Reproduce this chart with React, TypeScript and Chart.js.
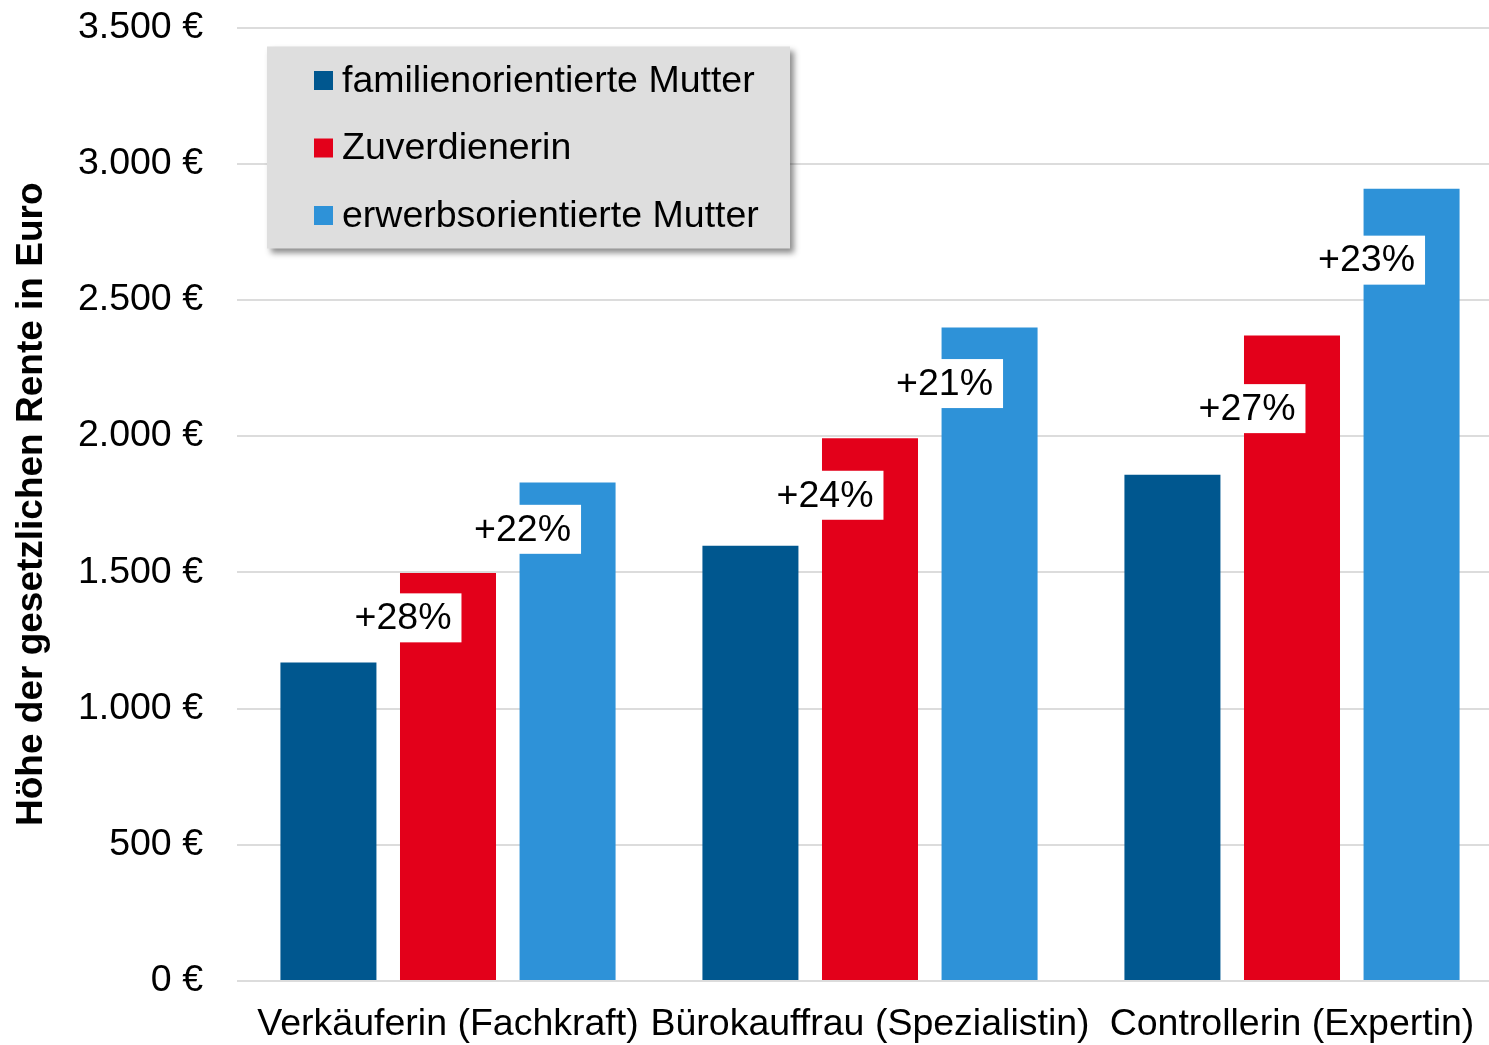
import React, { useEffect, useRef } from "react";
import { Chart, registerables } from "chart.js";

Chart.register(...registerables);

const categories = ["Verkäuferin (Fachkraft)", "Bürokauffrau (Spezialistin)", "Controllerin (Expertin)"];
const seriesNames = ["familienorientierte Mutter", "Zuverdienerin", "erwerbsorientierte Mutter"];
const familienorientiert = [1169, 1598, 1858];
const zuverdienerin = [1498, 1992, 2369];
const erwerbsorientiert = [1830, 2399, 2908];
const zuverdienerinLabels = ["+28%", "+24%", "+27%"];
const zuverdienerinLabelValues = [1333, 1783, 2101];
const erwerbsLabels = ["+22%", "+21%", "+23%"];
const erwerbsLabelValues = [1658, 2193, 2646];
const yTicks = [0, 500, 1000, 1500, 2000, 2500, 3000, 3500];
const yTitle = "Höhe der gesetzlichen Rente in Euro";

const COLORS = ["#00578F", "#E3001A", "#2E92D8"];
const FONT = "'Liberation Sans', Arial, sans-serif";

const fmt = (v: number) => String(v).replace(/\B(?=(\d{3})+(?!\d))/g, ".") + " €";

const labelPlugin = {
  id: "pctLabels",
  afterDatasetsDraw(chart: any) {
    const ctx = chart.ctx;
    const yScale = chart.scales.y;
    const specs = [
      { ds: 1, texts: zuverdienerinLabels, values: zuverdienerinLabelValues },
      { ds: 2, texts: erwerbsLabels, values: erwerbsLabelValues },
    ];
    ctx.save();
    ctx.font = `37.5px ${FONT}`;
    ctx.textAlign = "center";
    ctx.textBaseline = "middle";
    for (const s of specs) {
      const meta = chart.getDatasetMeta(s.ds);
      s.texts.forEach((t, i) => {
        const bar = meta.data[i];
        const cx = bar.x - bar.width / 2 + 3;
        const cy = yScale.getPixelForValue(s.values[i]);
        const w = ctx.measureText(t).width + 20;
        const h = 49;
        ctx.fillStyle = "#ffffff";
        ctx.fillRect(cx - w / 2, cy - h / 2, w, h);
        ctx.fillStyle = "#000000";
        ctx.fillText(t, cx, cy + 1);
      });
    }
    ctx.restore();
  },
};

const legendPlugin = {
  id: "boxLegend",
  afterDraw(chart: any) {
    const ctx = chart.ctx;
    const area = chart.chartArea;
    const x = area.left + 30;
    const y = area.top + 19;
    const w = 523;
    const h = 202;
    ctx.save();
    ctx.shadowColor = "rgba(0,0,0,0.45)";
    ctx.shadowBlur = 6;
    ctx.shadowOffsetX = 4;
    ctx.shadowOffsetY = 4;
    ctx.fillStyle = "#DEDEDE";
    ctx.fillRect(x, y, w, h);
    ctx.restore();
    ctx.save();
    ctx.font = `37.5px ${FONT}`;
    ctx.textAlign = "left";
    ctx.textBaseline = "middle";
    seriesNames.forEach((name, i) => {
      const cy = y + 34 + i * 67.5;
      ctx.fillStyle = COLORS[i];
      ctx.fillRect(x + 47, cy - 9.5, 19, 19);
      ctx.fillStyle = "#000000";
      ctx.fillText(name, x + 75, cy + 1);
    });
    ctx.restore();
  },
};

export default function App() {
  const ref = useRef<HTMLCanvasElement>(null);
  useEffect(() => {
    if (!ref.current) return;
    Chart.defaults.font.family = FONT;
    Chart.defaults.color = "#000000";
    const chart = new Chart(ref.current, {
      type: "bar",
      data: {
        labels: categories,
        datasets: [
          { label: seriesNames[0], data: familienorientiert, backgroundColor: COLORS[0] },
          { label: seriesNames[1], data: zuverdienerin, backgroundColor: COLORS[1] },
          { label: seriesNames[2], data: erwerbsorientiert, backgroundColor: COLORS[2] },
        ],
      },
      options: {
        responsive: false,
        animation: false,
        layout: { padding: { top: 5, right: 0, left: 0, bottom: 0 } },
        datasets: { bar: { categoryPercentage: 0.85, barPercentage: 0.803 } },
        plugins: { legend: { display: false }, tooltip: { enabled: false } },
        scales: {
          x: {
            grid: { display: false, drawTicks: false },
            border: { display: false },
            ticks: {
              font: { size: 37.5 },
              color: "#000000",
              padding: 21,
              maxRotation: 0,
              minRotation: 0,
              autoSkip: false,
            },
          },
          y: {
            min: 0,
            max: 3500,
            afterBuildTicks: (s: any) => {
              s.ticks = yTicks.map((v) => ({ value: v }));
            },
            afterFit: (s: any) => {
              s.width = 237;
            },
            grid: { color: "#DCDCDC", lineWidth: 2, drawTicks: false },
            border: { display: false },
            ticks: {
              font: { size: 37.5 },
              color: "#000000",
              padding: 34,
              callback: (v: any) => fmt(Number(v)),
            },
            title: {
              display: true,
              text: yTitle,
              font: { size: 37, weight: "bold" },
              color: "#000000",
              padding: { top: 10, bottom: 0 },
            },
          },
        },
      },
      plugins: [labelPlugin, legendPlugin],
    });
    return () => chart.destroy();
  }, []);
  return (
    <div style={{ position: "absolute", left: 0, top: 0, width: 1489, height: 1045, overflow: "hidden", background: "#fff" }}>
      <canvas
        ref={ref}
        width={1503}
        height={1097}
        style={{ display: "block", position: "relative", top: -29, width: 1503, height: 1097 }}
      />
    </div>
  );
}
